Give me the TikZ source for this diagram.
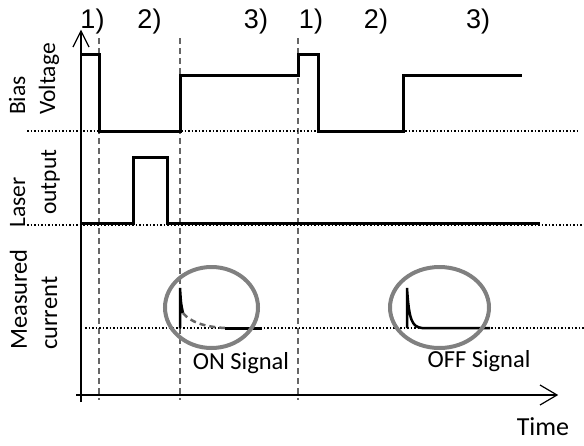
\documentclass[tikz,border=0pt]{standalone}
\usepackage{fontspec}
\setmainfont{Carlito}
\newfontfamily\arialfont{Liberation Sans}
\begin{document}
\begin{tikzpicture}[x=1pt,y=-1pt,
  trace/.style={line width=3pt,line join=miter},
  guide/.style={draw=black!60,line width=1.3pt,dash pattern=on 6pt off 4pt},
  level/.style={line width=1.5pt,dotted},
  ring/.style={draw=black!50,line width=4pt},
  axisline/.style={line width=1.2pt},
  ylab/.style={rotate=90,anchor=base west,inner sep=0pt,font=\fontsize{23.5}{25}\selectfont},
  phase/.style={anchor=base,inner sep=0pt,font=\arialfont\fontsize{27}{29}\selectfont},
  sig/.style={anchor=base,inner sep=0pt,font=\fontsize{24.5}{26}\selectfont}]
\useasboundingbox (0,0) rectangle (584,445);

% axes
\coordinate (yb) at (81,402);
\coordinate (yt) at (81,31);
\coordinate (xl) at (76,395);
\coordinate (xr) at (557,395);
\draw[axisline] (yb) -- (yt);
\draw[axisline] (73,47) -- (yt) -- (89,47);
\draw[axisline] (xl) -- (xr);
\draw[axisline] (540,385) -- (xr) -- (540,405);

% phase boundaries
\foreach \x in {99,180,298}
  \draw[guide] (\x,38) -- (\x,400);

% zero levels
\draw[level] (27,131) -- (577,131);
\draw[level] (27,225) -- (584,225);
\draw[level] (85,328) -- (584,328);

% bias voltage
\draw[trace] (81,54) -- (99,54) -- (99,131) -- (180,131) -- (180,75) -- (298,75)
  -- (298,54) -- (318,54) -- (318,131) -- (403,131) -- (403,75) -- (522,75);

% laser output
\draw[trace] (81,223) -- (133,223) -- (133,157) -- (167,157) -- (167,223) -- (540,223);

% measured current, ON signal
\draw[trace,line width=2.5pt] (180,328) -- (180,288) .. controls (181,304) .. (183,313);
\draw[line width=2.5pt,draw=black!60,dash pattern=on 6pt off 4pt]
  (183,313) .. controls (190,322) and (205,327) .. (225,328);
\draw[trace] (225,328) -- (262,328);
\draw[ring] (211.5,307.5) ellipse [x radius=46.5,y radius=40.5];

% measured current, OFF signal
\draw[trace,line width=2.5pt] (407,328) -- (407,288) .. controls (409,320) and (412,327) .. (422,328) -- (490,328);
\draw[ring] (439.5,307.5) ellipse [x radius=49.5,y radius=40.5];

% axis labels
\node[ylab] (bias) at (25,115) {Bias};
\node[ylab] (volt) at (55,115) {Voltage};
\node[ylab] (laser) at (25,228) {Laser};
\node[ylab] (outp) at (56,215) {output};
\node[ylab,font=\fontsize{24.5}{26}\selectfont] (meas) at (27,350) {Measured};
\node[ylab,font=\fontsize{24.5}{26}\selectfont] (curr) at (57,350) {current};
\node[sig,font=\fontsize{26}{28}\selectfont] (time) at (543,435) {Time};
\node[sig] (on) at (241,369) {ON Signal};
\node[sig] (off) at (479,367) {OFF Signal};

% phase numbers
\node[phase] (p1) at (92.5,28) {1)};
\node[phase] (p2) at (149.5,28) {2)};
\node[phase] (p3) at (256,28) {3)};
\node[phase] (q1) at (311,28) {1)};
\node[phase] (q2) at (376,28) {2)};
\node[phase] (q3) at (478,28) {3)};
\end{tikzpicture}
\end{document}
